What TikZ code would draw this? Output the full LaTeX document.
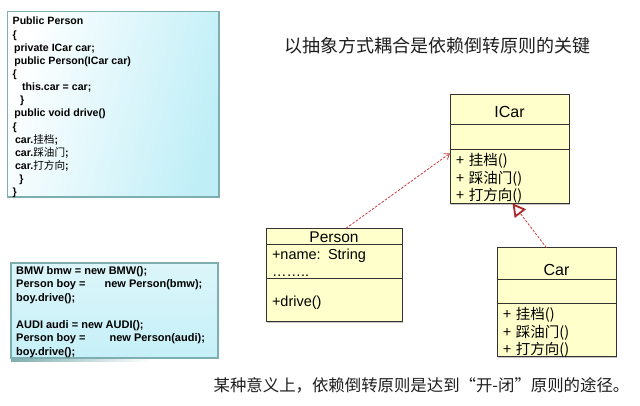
\documentclass[tikz,border=0pt]{standalone}
\usepackage{fontspec}
\setmainfont{Liberation Sans}
\newfontfamily\cjk{Noto Sans CJK SC}
\usepackage{tikz}
\usetikzlibrary{positioning,arrows.meta,shadows}
\definecolor{umlfill}{HTML}{FFFFCC}
\definecolor{umlline}{HTML}{333333}
\definecolor{codeedge}{HTML}{7FAEB0}
\definecolor{codecyan}{HTML}{BFEEF7}
\definecolor{linkred}{HTML}{CC3A3A}
\definecolor{tipred}{HTML}{A82828}
\definecolor{inkgray}{HTML}{1E1E1E}

\tikzset{
  umlbox/.style={draw=umlline, fill=umlfill, line width=0.9pt, inner sep=0pt, outer sep=0pt,
    drop shadow={shadow xshift=1.3pt, shadow yshift=-1.3pt, fill=black!45}},
  umlops/.style={align=left, inner xsep=6pt, text width=107pt, minimum width=119pt,
    font=\cjk\fontsize{14.5}{17.6}\selectfont},
  umllist/.style={align=left, inner xsep=6pt, font=\fontsize{14.5}{17}\selectfont},
  codebox/.style={draw=codeedge, line width=1.2pt, inner sep=0pt, outer sep=0pt},
  codetext/.style={align=left, inner sep=0pt, anchor=north west},
  linkdash/.style={draw=linkred, line width=0.8pt, dash pattern=on 2.5pt off 1.5pt}
}
\newcommand{\zh}[1]{{\cjk\mdseries #1}}

\begin{document}
\begin{tikzpicture}[x=1pt, y=-1pt]
\useasboundingbox (0,0) rectangle (640,406);

\node[codebox, top color=white, bottom color=codecyan, shading angle=75,
  minimum width=211.5pt, minimum height=185.5pt] (code1) at (113.25,104.25) {};
\node[codetext, font=\bfseries\fontsize{10.6}{13.15}\selectfont] (code1txt)
  at ([shift={(5pt,-5.5pt)}]code1.north west)
  {Public Person\\
   \{\\
   \hspace*{1.4pt}private ICar car;\\
   \hspace*{1.6pt}public Person(ICar car)\\
   \{\\
   \hspace*{9.4pt}this.car = car;\\
   \hspace*{7.4pt}\}\\
   \hspace*{1.7pt}public void drive()\\
   \{\\
   \hspace*{2.4pt}car.\zh{挂档};\\
   \hspace*{2.4pt}car.\zh{踩油门};\\
   \hspace*{2.4pt}car.\zh{打方向};\\
   \hspace*{6.7pt}\}\\
   \}};

\shade[left color=codeedge, right color=white] (11,358) rectangle (150,361.5);
\node[codebox, top color=codecyan!55, bottom color=codecyan!90,
  minimum width=207pt, minimum height=95pt] (code2) at (114.5,310.5) {};
\node[codetext, font=\bfseries\fontsize{11}{13.5}\selectfont] (code2txt)
  at ([shift={(5pt,-3.2pt)}]code2.north west)
  {BMW bmw = new BMW();\\
   Person boy =\hspace{19pt}new Person(bmw);\\
   boy.drive();\\[13.5pt]
   AUDI audi = new AUDI();\\
   Person boy =\hspace{24pt}new Person(audi);\\
   boy.drive();};

\node[font=\cjk\fontsize{18}{18}\selectfont, text=inkgray] (title) at (437.5,45.5)
  {以抽象方式耦合是依赖倒转原则的关键};

\node[umlbox, minimum width=119pt, text height=23.5pt, text depth=6.5pt,
  font=\fontsize{16}{16}\selectfont] (icarhead) at (509.5,109.3) {ICar};
\node[umlbox, minimum width=119pt, minimum height=25pt, below=0pt of icarhead] (icarattr) {};
\node[umlbox, umlops, text height=16.2pt, text depth=37.8pt, below=0pt of icarattr] (icarops)
  {+ 挂档()\\+ 踩油门()\\+ 打方向()};

\node[umlbox, minimum width=136pt, text height=14.7pt, text depth=1.3pt,
  font=\fontsize{15.5}{15.5}\selectfont] (personhead) at (334,236.3) {Person};
\node[umlbox, umllist, text width=124pt, text height=15.5pt, text depth=18.8pt,
  below=0pt of personhead] (personattr)
  {+name: String\\……..};
\node[umlbox, umllist, text width=124pt, text height=27.7pt, text depth=15.3pt,
  below=0pt of personattr] (personops)
  {+drive()};

\node[umlbox, minimum width=119pt, text height=27.8pt, text depth=3.5pt,
  font=\fontsize{16}{16}\selectfont] (carhead) at (556.5,263.35) {Car};
\node[umlbox, minimum width=119pt, minimum height=24pt, below=0pt of carhead] (carattr) {};
\node[umlbox, umlops, text height=16.5pt, text depth=37pt, below=0pt of carattr] (carops)
  {+ 挂档()\\+ 踩油门()\\+ 打方向()};

\draw[linkdash, -{Straight Barb[length=5pt, width=7pt]}]
  ([xshift=12pt]personhead.north) -- ([yshift=-4pt]icarops.north west);
\draw[linkdash, -{Triangle[open, length=13pt, width=14pt, color=tipred, line width=1.8pt]}]
  ([xshift=-10pt]carhead.north) -- ([xshift=3pt]icarops.south);

\node[font=\cjk\fontsize{16.4}{16.4}\selectfont, text=inkgray] (remark) at (421.5,385)
  {某种意义上，依赖倒转原则是达到\makebox[1em][r]{“}开-闭\makebox[1em][l]{”}原则的途径。};
\end{tikzpicture}
\end{document}
